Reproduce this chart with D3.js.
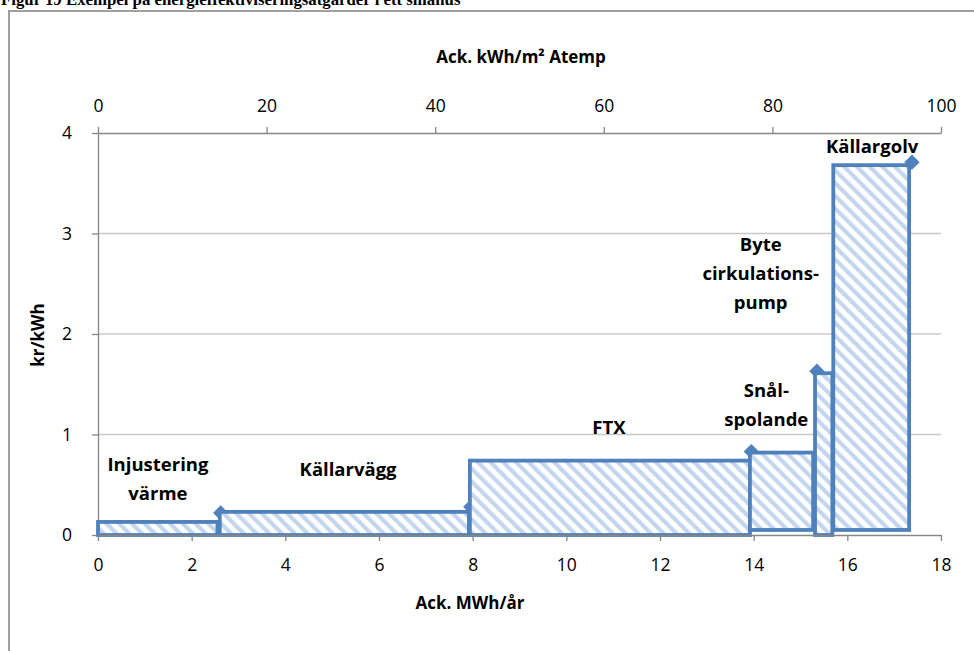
<!DOCTYPE html>
<html>
<head>
<meta charset="utf-8">
<script src="https://cdn.jsdelivr.net/npm/d3@7"></script>
<style>
  html, body { margin: 0; padding: 0; background: #fff; }
  svg { display: block; }
</style>
</head>
<body>
<svg id="chart" width="974" height="651"></svg>
<script>
// ---- data ----
const measures = ["Injustering värme", "Källarvägg", "FTX", "Snålspolande", "Byte cirkulationspump", "Källargolv"];
const xStart = [0, 2.6, 7.94, 13.92, 15.31, 15.7];
const xEnd   = [2.55, 7.92, 13.92, 15.27, 15.68, 17.32];
const yLow   = [0, 0, 0, 0.05, 0, 0.05];
const yHigh  = [0.13, 0.23, 0.74, 0.82, 1.61, 3.68];
const markerX = [2.62, 7.96, 13.95, 15.35, 17.38];
const markerY = [0.22, 0.28, 0.83, 1.63, 3.71];
const xTicks = [0, 2, 4, 6, 8, 10, 12, 14, 16, 18];
const xTopTicks = [0, 20, 40, 60, 80, 100];
const yTicks = [0, 1, 2, 3, 4];
const labelLines = [["Injustering", "värme"], ["Källarvägg"], ["FTX"], ["Snål-", "spolande"], ["Byte", "cirkulations-", "pump"], ["Källargolv"]];
const labelPos = [[1.28, 0.697], [5.34, 0.647], [10.91, 1.065], [14.27, 1.433], [14.15, 2.89], [16.53, 3.87]];

const svg = d3.select("#chart");
const x = d3.scaleLinear().domain([0, 18]).range([98, 941]);
const xTop = d3.scaleLinear().domain([0, 100]).range([98, 941]);
const y = d3.scaleLinear().domain([0, 4]).range([535, 133]);

const fontTick = "'Open Sans', 'Liberation Sans', sans-serif";
const axisColor = "#868686";
const gridColor = "#c8c8c8";
const blue = "#4f81bd";

// title (cut off at top, as in the source)
svg.append("text").attr("x", 1).attr("y", 5)
  .attr("font-family", "'Liberation Serif', 'Times New Roman', serif")
  .attr("font-weight", "bold").attr("font-size", 16.8).attr("fill", "#000")
  .text("Figur 19 Exempel på energieffektiviseringsåtgärder i ett småhus");

// frame
svg.append("path").attr("d", "M9,651 V11 H974").attr("fill", "none")
  .attr("stroke", "#a0a0a0").attr("stroke-width", 2);

// hatch pattern
const defs = svg.append("defs");
const pat = defs.append("pattern").attr("id", "hatch").attr("patternUnits", "userSpaceOnUse")
  .attr("width", 9).attr("height", 9).attr("patternTransform", "rotate(-45)");
pat.append("rect").attr("width", 9).attr("height", 9).attr("fill", "#fff");
pat.append("rect").attr("x", 0).attr("y", 0).attr("width", 4.2).attr("height", 9).attr("fill", "#c3d6ee");

// gridlines
svg.append("g").selectAll("line").data(yTicks.filter(d => d > 0 && d < 4)).join("line")
  .attr("x1", x(0)).attr("x2", x(18)).attr("y1", d => y(d)).attr("y2", d => y(d))
  .attr("stroke", gridColor).attr("stroke-width", 1.3);

function styleAxis(g) {
  g.select(".domain").attr("stroke", axisColor).attr("stroke-width", 1.3);
  g.selectAll(".tick line").attr("stroke", axisColor).attr("stroke-width", 1.3);
  g.selectAll(".tick text").attr("font-family", fontTick).attr("font-size", 17.5).attr("fill", "#000");
}
const fmt = d3.format("d");

// top axis
const gTop = svg.append("g").attr("transform", `translate(0,${y(4)})`)
  .call(d3.axisTop(xTop).tickValues(xTopTicks).tickFormat(fmt).tickSizeInner(6).tickSizeOuter(0).tickPadding(15));
styleAxis(gTop);

// left axis
const gLeft = svg.append("g").attr("transform", `translate(${x(0)},0)`)
  .call(d3.axisLeft(y).tickValues(yTicks).tickFormat(fmt).tickSizeInner(6).tickSizeOuter(0).tickPadding(20));
styleAxis(gLeft);

// markers (behind bars)
svg.append("g").selectAll("path").data(markerX.map((d, i) => [d, markerY[i]])).join("path")
  .attr("transform", d => `translate(${x(d[0])},${y(d[1])})`)
  .attr("d", d3.symbol(d3.symbolDiamond2, 150))
  .attr("fill", blue);

// bars
svg.append("g").selectAll("rect").data(measures.map((m, i) => i)).join("rect")
  .attr("x", i => x(xStart[i])).attr("width", i => x(xEnd[i]) - x(xStart[i]))
  .attr("y", i => y(yHigh[i])).attr("height", i => y(yLow[i]) - y(yHigh[i]))
  .attr("fill", "url(#hatch)").attr("stroke", blue).attr("stroke-width", 3.8);

// bottom axis (drawn over)
const gBot = svg.append("g").attr("transform", `translate(0,${y(0)})`)
  .call(d3.axisBottom(x).tickValues(xTicks).tickFormat(fmt).tickSizeInner(6).tickSizeOuter(0).tickPadding(18));
styleAxis(gBot);
gBot.select(".domain").lower();

// data labels
const lg = svg.append("g").attr("font-family", fontTick).attr("font-weight", "bold")
  .attr("font-size", 18.5).attr("text-anchor", "middle").attr("fill", "#000");
labelLines.forEach((lines, i) => {
  const t = lg.append("text").attr("x", x(labelPos[i][0])).attr("y", y(labelPos[i][1]) + 6.5);
  lines.forEach((ln, j) => {
    t.append("tspan").attr("x", x(labelPos[i][0])).attr("dy", j === 0 ? 0 : 29).text(ln);
  });
});

// axis titles
const tg = svg.append("g").attr("font-family", fontTick).attr("font-weight", "bold")
  .attr("font-size", 17).attr("text-anchor", "middle").attr("fill", "#000");
tg.append("text").attr("x", 521).attr("y", 63).text("Ack. kWh/m² Atemp");
tg.append("text").attr("x", 470).attr("y", 609).text("Ack. MWh/år");
tg.append("text").attr("transform", "translate(44,335) rotate(-90)").text("kr/kWh");
</script>
</body>
</html>
